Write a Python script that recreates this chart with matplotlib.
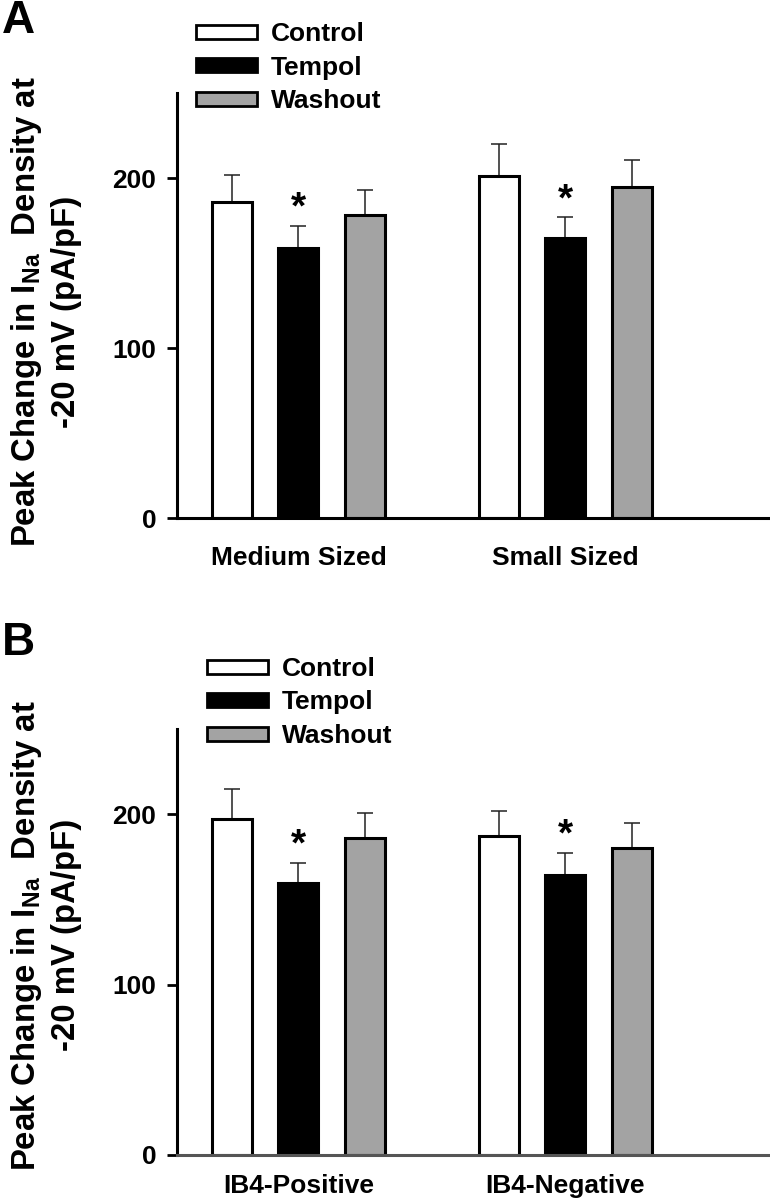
import numpy as np
import matplotlib
matplotlib.use("Agg")
import matplotlib.pyplot as plt
from matplotlib.patches import Patch

plt.rcParams['font.family'] = ['Liberation Sans', 'DejaVu Sans']
plt.rcParams['font.weight'] = 'bold'
plt.rcParams['mathtext.fontset'] = 'custom'
plt.rcParams['mathtext.rm'] = 'Liberation Sans:bold'
plt.rcParams['mathtext.it'] = 'Liberation Sans:bold'
plt.rcParams['mathtext.bf'] = 'Liberation Sans:bold'

# series names
series = ['Control', 'Tempol', 'Washout']
colors = ['white', 'black', '#a3a3a3']

# panel A
cats_a = ['Medium Sized', 'Small Sized']
control_a = [186, 201]
control_a_err = [15.5, 19]
tempol_a = [159, 165]
tempol_a_err = [13, 12]
washout_a = [178, 195]
washout_a_err = [15, 15.5]

# panel B
cats_b = ['IB4-Positive', 'IB4-Negative']
control_b = [197, 187]
control_b_err = [17.5, 15]
tempol_b = [159.5, 164.5]
tempol_b_err = [12, 13]
washout_b = [186, 180]
washout_b_err = [14.5, 15]

yticks = [0, 100, 200]

fig = plt.figure(figsize=(7.7, 12.02), dpi=100)
ax_a = fig.add_axes([177/770, 1-518/1202, 591/770, 425/1202])
ax_b = fig.add_axes([177/770, 1-1155/1202, 591/770, 426/1202])


def draw_panel(ax, cats, vals, errs, letter, letter_y, leg_x, leg_y, xcolor, xpad, lab_y):
    group_pos = np.array([0, 4])
    for i, (v, e) in enumerate(zip(vals, errs)):
        x = group_pos + i
        ax.bar(x, v, width=0.6, color=colors[i], edgecolor='black',
               linewidth=2.2, zorder=2)
        ax.errorbar(x, v, yerr=[np.zeros(len(e)), e], fmt='none',
                    ecolor='#222222', elinewidth=1.1, capsize=6,
                    capthick=1.1, zorder=1)
    # significance marks on Tempol
    for x, v, e in zip(group_pos + 1, vals[1], errs[1]):
        ax.text(x, v + e + 10, '*', ha='center', va='center',
                fontsize=28, fontweight='bold')
    ax.set_xlim(-0.82, 8.04)
    ax.set_ylim(0, 250)
    ax.set_yticks(yticks)
    ax.set_xticks(group_pos + 1)
    ax.set_xticklabels(cats, fontsize=19, fontweight='bold')
    ax.tick_params(axis='x', length=0, pad=xpad)
    ax.tick_params(axis='y', length=7, width=2, labelsize=19, pad=8)
    for lab in ax.get_yticklabels():
        lab.set_fontweight('bold')
    ax.spines['top'].set_visible(False)
    ax.spines['right'].set_visible(False)
    ax.spines['left'].set_linewidth(2.2)
    ax.spines['bottom'].set_linewidth(2.2)
    ax.spines['bottom'].set_color(xcolor)
    ax.set_ylabel('Peak Change in I$_{\\mathrm{Na}}$  Density at\n-20 mV (pA/pF)',
                  fontsize=23.7, fontweight='bold', linespacing=1.3)
    ax.yaxis.set_label_coords(-0.161, lab_y)
    handles = [Patch(facecolor=c, edgecolor='black', linewidth=2) for c in colors]
    ax.legend(handles, series, loc='upper left',
              bbox_to_anchor=(leg_x, leg_y), bbox_transform=fig.transFigure,
              frameon=False, fontsize=19, borderpad=0, borderaxespad=0,
              handlelength=2.3, handleheight=0.45, handletextpad=0.55,
              labelspacing=0.36)
    fig.text(2/770, letter_y, letter, fontsize=33, fontweight='bold',
             ha='left', va='baseline')


draw_panel(ax_a, cats_a, [control_a, tempol_a, washout_a],
           [control_a_err, tempol_a_err, washout_a_err],
           'A', 1-33/1202, 196/770, 1-22/1202, 'black', 20.5, 0.485)
draw_panel(ax_b, cats_b, [control_b, tempol_b, washout_b],
           [control_b_err, tempol_b_err, washout_b_err],
           'B', 1-655/1202, 207/770, 1-657/1202, '#555555', 14, 0.516)

fig.savefig('out.png', dpi=100)
